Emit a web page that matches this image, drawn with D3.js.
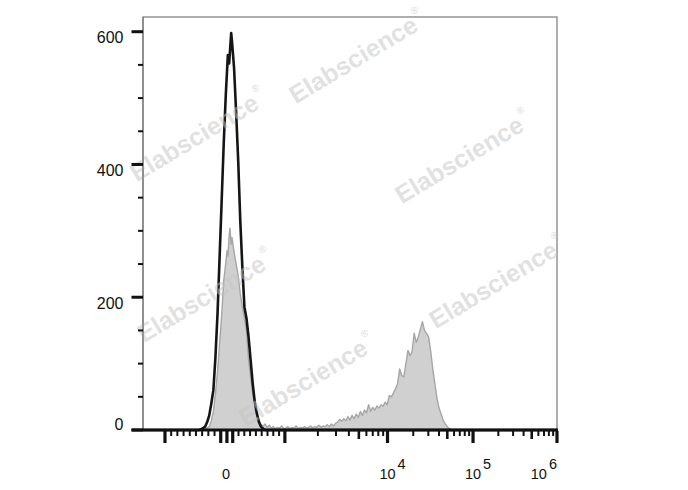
<!DOCTYPE html>
<html><head><meta charset="utf-8">
<script src="https://cdn.jsdelivr.net/npm/d3@7/dist/d3.min.js"></script>
<style>body{margin:0;background:#fff;}svg{display:block;}</style>
</head><body>
<svg id="chart" width="688" height="490"></svg>
<script>
// ---------- data (display channel 0..1000, counts) ----------
const blackChannels=[0,135,140,145,150,155,160,165,170,175,180,185,190,195,200,205,208,210,213,215,220,225,230,235,240,245,250,255,260,265,270,275,280,285,290,295,1000];
const blackCounts  =[0,0,1,3,5,12,22,40,60,110,175,260,345,432,505,565,552,570,598,585,545,478,405,315,245,185,168,140,105,70,42,25,12,5,2,0,0];

const grayChannels=[0,140,145,150,155,160,165,170,175,180,185,190,195,200,203,205,208,210,213,215,220,225,230,235,240,245,250,255,260,265,270,275,280,285,290,295,300,305,310,315,
 320,325,330,335,340,345,350,355,360,365,370,375,380,385,390,395,400,405,410,415,420,425,430,435,440,445,450,455,460,465,
 470,475,480,485,490,495,500,505,510,515,520,525,530,535,540,545,550,555,560,565,570,575,580,585,590,595,600,605,610,615,
 620,625,630,635,640,645,650,655,660,665,670,675,680,685,690,695,700,705,710,715,720,725,730,735,740,745,750,1000];
const grayCounts=[0,0,1,2,3,5,14,28,55,88,130,172,225,252,270,262,292,304,280,290,268,250,232,205,185,168,150,105,80,55,40,25,15,8,6,9,4,7,3,5,
 2,4,3,6,2,3,5,2,4,3,6,2,4,3,5,3,4,6,3,5,4,7,4,6,5,8,5,9,6,10,
 12,16,13,17,14,20,15,22,17,24,19,28,22,30,26,38,28,34,30,36,33,38,36,42,38,52,50,56,62,70,
 92,82,80,100,120,112,118,146,132,140,152,163,150,145,140,118,92,70,48,33,24,15,9,5,2,1,0,0];

// axis definitions
const yMajorTicks=[0,200,400,600];
const yMinorTicks=[50,100,150,250,300,350,450,500,550];
const yLabels=["0","200","400","600"];
const xMajorTicks=[-1000,-100,0,100,1000,1e4,1e5,1e6];
const xMediumTicks=[5000,5e4,5e5];
const xMinorTicks=[-900,-800,-700,-600,-500,-400,-300,-200,200,300,400,500,600,700,800,900,
 2000,3000,4000,6000,7000,8000,9000,2e4,3e4,4e4,6e4,7e4,8e4,9e4,2e5,3e5,4e5,6e5,7e5,8e5,9e5];
const xLabelValues=[0,1e4,1e5,1e6];
const xLabelBase=["0","10","10","10"];
const xLabelExp=["","4","5","6"];

// biexponential-like display transform: fluorescence value -> display channel
const transformKnots=[-1000,0,1000,2000,5000,1e4,1e5,1e6];
const channelKnots=[53.1,202.7,342.7,422.4,521.4,590.6,797.2,1000];

const watermarkCenters=[[357,57],[463,157],[198,135],[205,296],[497,282],[307,380]];

// ---------- layout ----------
const L=143,R=557,T=17,B=430;
const svg=d3.select("#chart");
const font="'Liberation Sans', Arial, Helvetica, sans-serif";

function hyb(v){const a=Math.abs(v);return a<=1000? v/1000 : Math.sign(v)*(1+Math.log10(a/1000));}
const toChannel=d3.scaleLinear().domain(transformKnots.map(hyb)).range(channelKnots);
const x=d3.scaleLinear().domain([0,1000]).range([L,R]);
const y=d3.scaleLinear().domain([0,600]).range([B,31.7]);
const xv=v=>x(toChannel(hyb(v)));

// frame
svg.append("rect").attr("x",L).attr("y",T).attr("width",R-L).attr("height",B-T)
  .attr("fill","#fff").attr("stroke","#7a7a7a").attr("stroke-width",1.2);

// gray filled histogram
const grayData=grayChannels.map((c,i)=>[c,grayCounts[i]]);
svg.append("path").datum(grayData)
  .attr("d",d3.area().x(d=>x(d[0])).y0(y(0)).y1(d=>y(d[1])))
  .attr("fill","#d0d0d0").attr("stroke","#a6a6a6").attr("stroke-width",1.4).attr("stroke-linejoin","round");

// black line histogram
const blackData=blackChannels.map((c,i)=>[c,blackCounts[i]]);
svg.append("path").datum(blackData)
  .attr("d",d3.line().x(d=>x(d[0])).y(d=>y(d[1])))
  .attr("fill","none").attr("stroke","#151515").attr("stroke-width",2.6).attr("stroke-linejoin","round");

// watermarks
const wm=svg.append("g");
watermarkCenters.forEach(p=>{
  const t=wm.append("text").attr("transform",`translate(${p[0]},${p[1]}) rotate(-31)`)
    .attr("text-anchor","middle").attr("dominant-baseline","central")
    .attr("font-family",font).attr("font-weight","bold").attr("font-size",25)
    .attr("fill","#c4c4c4").attr("fill-opacity",0.5);
  t.append("tspan").text("Elabscience");
  t.append("tspan").attr("font-size",10).attr("dy",-11).attr("dx",2).text("®");
});

// y axis
svg.append("line").attr("x1",L).attr("x2",L).attr("y1",T).attr("y2",B).attr("stroke","#7a7a7a").attr("stroke-width",1.2);
svg.selectAll(".ymaj").data(yMajorTicks).enter().append("line")
  .attr("x1",L-11.5).attr("x2",L).attr("y1",d=>y(d)).attr("y2",d=>y(d))
  .attr("stroke","#111").attr("stroke-width",3);
svg.selectAll(".ymin").data(yMinorTicks).enter().append("line")
  .attr("x1",L-5).attr("x2",L).attr("y1",d=>y(d)).attr("y2",d=>y(d))
  .attr("stroke","#111").attr("stroke-width",2);
svg.selectAll(".ylab").data(yMajorTicks).enter().append("text")
  .attr("x",123.5).attr("y",d=>d===0? y(d)-0.5 : y(d)+11.7)
  .attr("text-anchor","end").attr("font-family",font).attr("font-size",16).attr("fill","#111")
  .text((d,i)=>yLabels[i]);

// x axis
svg.append("line").attr("x1",L-11.5).attr("x2",R+1).attr("y1",B).attr("y2",B).attr("stroke","#111").attr("stroke-width",3);
function xt(list,len,w){
  svg.append("g").selectAll("line").data(list).enter().append("line")
   .attr("x1",d=>xv(d)).attr("x2",d=>xv(d)).attr("y1",B+1).attr("y2",B+1+len)
   .attr("stroke","#111").attr("stroke-width",w);
}
xt(xMinorTicks,5,2);
xt(xMediumTicks,8,2.6);
xt(xMajorTicks,12,3.2);

xLabelValues.forEach((v,i)=>{
  const px=xv(v);
  const t=svg.append("text").attr("y",478.5).attr("font-family",font).attr("font-size",14.5).attr("fill","#111");
  t.append("tspan").text(xLabelBase[i]);
  if(xLabelExp[i]){
    t.append("tspan").attr("dx",2).attr("dy",-10).text(xLabelExp[i]);
  }
  if(i===xLabelValues.length-1){
    t.attr("x",px).attr("text-anchor","end");
  } else if(xLabelExp[i]){
    const tmp=svg.append("text").attr("font-family",font).attr("font-size",14.5).text(xLabelBase[i]);
    const w=tmp.node().getComputedTextLength(); tmp.remove();
    t.attr("x",px-w/2).attr("text-anchor","start");
  } else {
    t.attr("x",px-1).attr("text-anchor","middle");
  }
});
</script>
</body></html>
